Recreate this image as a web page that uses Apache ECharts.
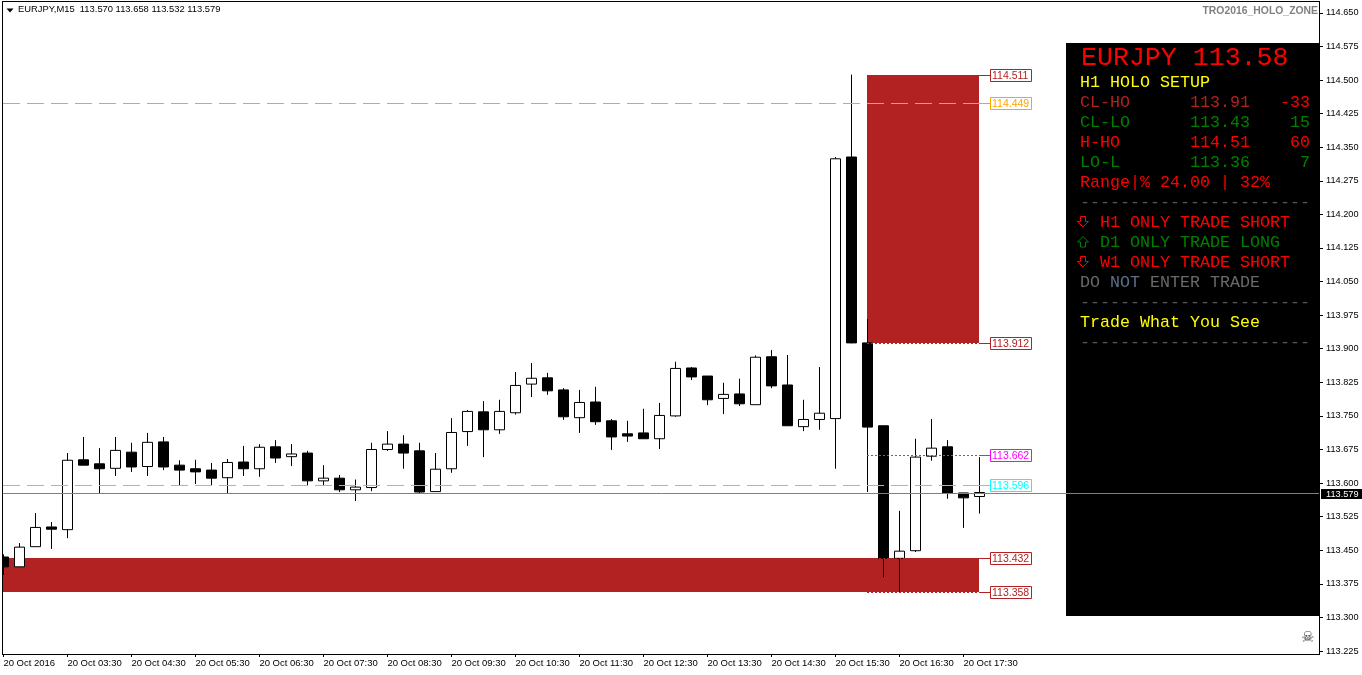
<!DOCTYPE html>
<html lang="en">
<head>
<meta charset="UTF-8">
<title>EURJPY,M15</title>
<style>
  * { margin: 0; padding: 0; }
  body { background: #fff; }
  #chart { width: 1362px; height: 675px; }
</style>
</head>
<body>
<div id="chart"></div>
<script src="https://cdn.jsdelivr.net/npm/echarts@6/dist/echarts.min.js"></script>
<script>
// M15 candles, one entry per bar
var opens = [113.435,113.413,113.458,113.502,113.496,113.652,113.643,113.633,113.669,113.637,113.692,113.640,113.632,113.629,113.612,113.647,113.632,113.681,113.659,113.667,113.605,113.611,
  113.585,113.590,113.675,113.687,113.672,113.581,113.632,113.715,113.759,113.719,113.757,113.821,113.835,113.808,113.746,113.781,113.739,113.710,113.712,113.699,113.750,113.857,
  113.839,113.789,113.799,113.775,113.882,113.819,113.726,113.742,113.744,114.328,113.913,113.728,113.432,113.449,113.660,113.681,113.578,113.570];
var closes = [113.413,113.457,113.501,113.497,113.651,113.640,113.632,113.673,113.636,113.691,113.636,113.629,113.625,113.611,113.646,113.632,113.680,113.656,113.665,113.605,113.611,113.585,
  113.591,113.675,113.687,113.667,113.580,113.631,113.713,113.760,113.719,113.760,113.818,113.834,113.806,113.748,113.780,113.737,113.703,113.705,113.699,113.751,113.856,113.837,
  113.786,113.798,113.777,113.881,113.817,113.728,113.742,113.756,114.324,113.913,113.725,113.432,113.448,113.658,113.678,113.578,113.567,113.579];
var lows = [113.395,113.413,113.458,113.453,113.477,113.640,113.576,113.616,113.625,113.616,113.629,113.595,113.598,113.595,113.576,113.616,113.614,113.645,113.638,113.595,113.595,113.580,
  113.560,113.582,113.672,113.632,113.576,113.581,113.623,113.683,113.658,113.710,113.753,113.792,113.797,113.741,113.712,113.730,113.674,113.692,113.699,113.676,113.748,113.830,
  113.774,113.754,113.772,113.775,113.812,113.728,113.716,113.719,113.632,113.912,113.580,113.390,113.356,113.446,113.650,113.565,113.500,113.532];
var highs = [113.441,113.466,113.533,113.513,113.667,113.703,113.678,113.703,113.690,113.712,113.703,113.651,113.652,113.645,113.654,113.683,113.687,113.696,113.687,113.672,113.640,113.618,
  113.608,113.690,113.716,113.707,113.690,113.667,113.745,113.763,113.783,113.786,113.848,113.868,113.846,113.812,113.808,113.815,113.743,113.739,113.766,113.779,113.871,113.859,
  113.839,113.824,113.833,113.885,113.897,113.886,113.786,113.859,114.328,114.512,113.966,113.728,113.538,113.699,113.743,113.696,113.578,113.658];

var xTickLabels = ['20 Oct 2016','20 Oct 03:30','20 Oct 04:30','20 Oct 05:30','20 Oct 06:30','20 Oct 07:30','20 Oct 08:30','20 Oct 09:30',
  '20 Oct 10:30','20 Oct 11:30','20 Oct 12:30','20 Oct 13:30','20 Oct 14:30','20 Oct 15:30','20 Oct 16:30','20 Oct 17:30'];
var yTicks = [114.650,114.575,114.500,114.425,114.350,114.275,114.200,114.125,114.050,113.975,113.900,113.825,113.750,113.675,113.600,113.525,113.450,113.375,113.300,113.225];

var barsPerLabel = 4;
var lastBar = opens.length - 1;
var yMin = 113.2184, yMax = 114.6741;
var xMax = 82.2875;

// red zones: first bar, last bar, top, bottom
var zones = [
  [54, lastBar, 114.511, 113.912],
  [0, lastBar, 113.432, 113.358]
];

var currentPrice = 113.579;
var red = '#b22222';
// horizontal levels: first bar, price
var levelData = [[54,114.511],[0,114.449],[54,113.912],[54,113.662],[0,113.596],[54,113.432],[54,113.358]];
var levelColors = [red,'#ffa500',red,'#ff00ff','#00ffff',red,red];
var levelDashes = [null,[17,7],[2,2],[2,2],[17,7],[2,2],[2,2]];

// info panel, text / colour / column / row
var panelLines = [
  ['H1 HOLO SETUP', '#ffff00', 0, 0],
  ['CL-HO', red, 0, 1], ['113.91', red, 11, 1], ['-33', '#ff0000', 20, 1],
  ['CL-LO', '#008000', 0, 2], ['113.43', '#008000', 11, 2], ['15', '#008000', 21, 2],
  ['H-HO', '#ff0000', 0, 3], ['114.51', '#ff0000', 11, 3], ['60', '#ff0000', 21, 3],
  ['LO-L', '#008000', 0, 4], ['113.36', '#008000', 11, 4], ['7', '#008000', 22, 4],
  ['Range|% 24.00 | 32%', '#ff0000', 0, 5],
  ['-----------------------', '#555555', 0, 6],
  ['H1 ONLY TRADE SHORT', '#ff0000', 2, 7],
  ['D1 ONLY TRADE LONG', '#008000', 2, 8],
  ['W1 ONLY TRADE SHORT', '#ff0000', 2, 9],
  ['DO', '#696969', 0, 10], ['NOT', '#5f6f85', 3, 10], ['ENTER TRADE', '#696969', 7, 10],
  ['-----------------------', '#555555', 0, 11],
  ['Trade What You See', '#ffff00', 0, 12],
  ['-----------------------', '#555555', 0, 13]
];

var candles = opens.map(function (o, i) {
  return [i, o, closes[i], lows[i], highs[i]];
});
var labelBars = xTickLabels.map(function (t, i) { return i * barsPerLabel; });

// keep 1px lines on whole pixel rows like the original
function snapRow(y) {
  return Math.round(y + 0.1);
}

var series = [
  {
    name: 'zones',
    type: 'custom',
    z: 1,
    silent: true,
    data: zones,
    encode: { x: [0, 1], y: [2, 3] },
    renderItem: function (params, api) {
      var a = api.coord([api.value(0), api.value(2)]);
      var b = api.coord([api.value(1), api.value(3)]);
      var x = Math.round(a[0]), y = snapRow(a[1]);
      return {
        type: 'rect',
        shape: { x: x, y: y, width: Math.round(b[0]) - x, height: snapRow(b[1]) - y },
        style: { fill: red }
      };
    }
  },
  {
    name: 'EURJPY',
    type: 'candlestick',
    z: 2,
    barWidth: 10,
    silent: true,
    data: candles,
    itemStyle: { color: '#ffffff', color0: '#000000', borderColor: '#000000', borderColor0: '#000000', borderWidth: 1 }
  },
  {
    name: 'levels',
    type: 'custom',
    z: 3,
    silent: true,
    data: levelData,
    encode: { x: 0, y: 1 },
    renderItem: function (params, api) {
      var i = params.dataIndex;
      var start = api.coord([api.value(0), api.value(1)]);
      var end = api.coord([lastBar, api.value(1)]);
      var row = snapRow(start[1]) + 0.5;
      var color = levelColors[i];
      var kids = [];
      if (levelDashes[i]) {
        kids.push({
          type: 'line',
          shape: { x1: Math.round(start[0]), y1: row, x2: Math.round(end[0]), y2: row },
          style: { stroke: color, lineWidth: 1, lineDash: levelDashes[i] }
        });
      }
      var boxX = Math.round(end[0]) + 11;
      kids.push({
        type: 'line',
        shape: { x1: Math.round(end[0]), y1: row, x2: boxX, y2: row },
        style: { stroke: color, lineWidth: 1 }
      });
      kids.push({
        type: 'rect',
        shape: { x: boxX + 0.5, y: row - 6, width: 41, height: 12 },
        style: { fill: '#fff', stroke: color, lineWidth: 1 }
      });
      kids.push({
        type: 'text',
        style: {
          x: boxX + 2, y: row + 0.5, text: api.value(1).toFixed(3), fill: color,
          font: '10.5px "Liberation Sans"', verticalAlign: 'middle'
        }
      });
      return { type: 'group', children: kids };
    }
  },
  {
    name: 'current',
    type: 'custom',
    z: 6,
    silent: true,
    data: [[0, currentPrice]],
    encode: { x: 0, y: 1 },
    renderItem: function (params, api) {
      var p = api.coord([0, api.value(1)]);
      var right = api.coord([xMax, api.value(1)]);
      var row = snapRow(p[1]) + 0.5;
      return {
        type: 'group',
        children: [
          { type: 'line', shape: { x1: Math.round(p[0]), y1: row, x2: Math.round(right[0]), y2: row }, style: { stroke: '#808080', lineWidth: 1 } },
          { type: 'rect', shape: { x: 1321, y: row - 4.5, width: 41, height: 10 }, style: { fill: '#000' } },
          { type: 'text', style: { x: 1326, y: row + 0.5, text: api.value(1).toFixed(3), fill: '#fff', font: '9.2px "Liberation Sans"', verticalAlign: 'middle' } }
        ]
      };
    }
  }
];

function arrowPoints(x, y, down) {
  var pts = [[3, 0], [8, 0], [8, 5], [11, 5], [5.5, 10.5], [0, 5], [3, 5]];
  return pts.map(function (p) {
    return [x + p[0], y + (down ? p[1] : 10.5 - p[1])];
  });
}

var graphics = [
  { type: 'rect', z: 5, shape: { x: 1066, y: 43, width: 254, height: 573 }, style: { fill: '#000' } },
  // chart frame
  { type: 'rect', z: 50, shape: { x: 0, y: 0, width: 2, height: 660 }, style: { fill: '#fff' } },
  { type: 'rect', z: 60, shape: { x: 2, y: 1, width: 1, height: 654 }, style: { fill: '#000' } },
  { type: 'rect', z: 60, shape: { x: 2, y: 1, width: 1318, height: 1 }, style: { fill: '#000' } },
  { type: 'rect', z: 60, shape: { x: 1319, y: 1, width: 1, height: 654 }, style: { fill: '#000' } },
  { type: 'rect', z: 60, shape: { x: 2, y: 654, width: 1318, height: 1 }, style: { fill: '#000' } },
  { type: 'polygon', z: 50, shape: { points: [[6.5, 8.5], [13.5, 8.5], [10, 12.5]] }, style: { fill: '#000' } },
  { type: 'text', z: 50, style: { x: 18, y: 5, text: 'EURJPY,M15  113.570 113.658 113.532 113.579', fill: '#000', font: '9.4px "Liberation Sans"' } },
  { type: 'text', z: 50, style: { x: 1318, y: 6, text: 'TRO2016_HOLO_ZONE', align: 'right', fill: '#808080', font: 'bold 10.4px "Liberation Sans"' } },
  { type: 'text', z: 50, style: { x: 1081, y: 44, text: 'EURJPY 113.58', fill: '#ff0000', font: '26.6px "Liberation Mono"' } },
  { type: 'text', z: 50, style: { x: 1301, y: 631, text: '\u2620', fill: '#444', font: '15px "DejaVu Sans"' } },
  { type: 'polygon', z: 50, shape: { points: arrowPoints(1077.5, 216.5, true) }, style: { fill: 'none', stroke: '#ff0000', lineWidth: 1 } },
  { type: 'polygon', z: 50, shape: { points: arrowPoints(1077.5, 236.5, false) }, style: { fill: 'none', stroke: '#008000', lineWidth: 1 } },
  { type: 'polygon', z: 50, shape: { points: arrowPoints(1077.5, 256.5, true) }, style: { fill: 'none', stroke: '#ff0000', lineWidth: 1 } }
];
panelLines.forEach(function (p) {
  graphics.push({
    type: 'text', z: 50,
    style: { x: 1080 + p[2] * 10, y: 83 + p[3] * 20, text: p[0], fill: p[1], font: '16.67px "Liberation Mono"', verticalAlign: 'middle' }
  });
});

var myChart = echarts.init(document.getElementById('chart'), null, { renderer: 'canvas' });
myChart.setOption({
  animation: false,
  backgroundColor: '#fff',
  grid: { left: 3.4, right: 42, top: 2, bottom: 21 },
  xAxis: {
    type: 'value',
    min: 0,
    max: xMax,
    splitLine: { show: false },
    axisLine: { show: false, onZero: false },
    axisTick: { show: true, length: 3, customValues: labelBars, lineStyle: { color: '#000' } },
    axisLabel: {
      customValues: labelBars,
      align: 'left',
      margin: 4,
      color: '#000',
      fontFamily: 'Liberation Sans',
      fontSize: 9.5,
      formatter: function (v) { return xTickLabels[v / barsPerLabel]; }
    }
  },
  yAxis: {
    type: 'value',
    position: 'right',
    min: yMin,
    max: yMax,
    splitLine: { show: false },
    axisLine: { show: false, onZero: false },
    axisTick: { show: true, length: 3, customValues: yTicks, lineStyle: { color: '#000' } },
    axisLabel: {
      customValues: yTicks,
      margin: 6,
      color: '#000',
      fontFamily: 'Liberation Sans',
      fontSize: 9.2,
      formatter: function (v) { return v.toFixed(3); }
    }
  },
  graphic: graphics,
  series: series
});
</script>
</body>
</html>
